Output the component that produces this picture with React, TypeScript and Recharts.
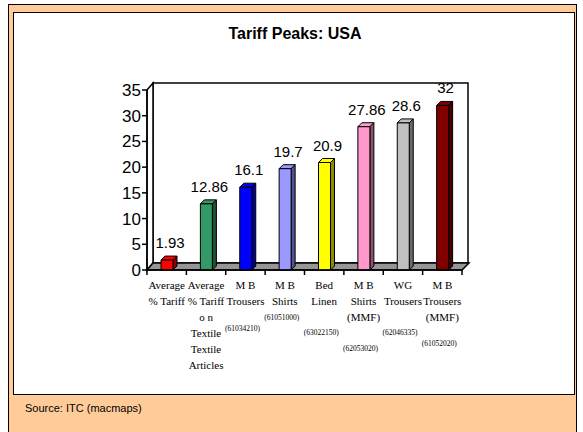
import { BarChart, Bar, XAxis, YAxis, Cell, LabelList } from 'recharts';

const categories = ['avg', 'avgTextile', 'mbTrousers', 'mbShirts', 'bedLinen', 'mbShirtsMMF', 'wgTrousers', 'mbTrousersMMF'];
const tariffs = [1.93, 12.86, 16.1, 19.7, 20.9, 27.86, 28.6, 32];
const labelLines = [
    ['Average', '% Tariff'],
    ['Average', '%  Tariff', 'o n', 'Textile', 'Textile', 'Articles'],
    ['M B', 'Trousers'],
    ['M B', 'Shirts'],
    ['Bed', 'Linen'],
    ['M B', 'Shirts', '(MMF)'],
    ['WG', 'Trousers'],
    ['M B', 'Trousers', '(MMF)'],
];
const codes = ['', '', '(61034210)', '(61051000)', '(63022150)', '(62053020)', '(62046335)', '(61052020)'];
const yTicks = [0, 5, 10, 15, 20, 25, 30, 35];

const COLORS = ['#FF0000', '#339966', '#0000FF', '#9999FF', '#FFFF00', '#FF99CC', '#C0C0C0', '#800000'];

const data = categories.map((c, i) => ({ name: c, value: tariffs[i] }));

// layout
const W = 583;
const H = 432;
const LEFT = 147;
const RIGHT = 462;
const TOP = 90;
const BOTTOM = 270;
const DEPTH = 6;
const BAND = (RIGHT - LEFT) / categories.length;
// row (in lines) where the small code label sits under each category
const CODE_ROW = [0, 0, 2.7, 2.05, 2.95, 3.95, 2.95, 3.65];

const darken = (hex: string, k: number) => {
    const n = parseInt(hex.slice(1), 16);
    const r = Math.round(((n >> 16) & 255) * k);
    const g = Math.round(((n >> 8) & 255) * k);
    const b = Math.round((n & 255) * k);
    return `rgb(${r},${g},${b})`;
};

const Bar3D = (props: any) => {
    const { x, y, width, height, fill } = props;
    const d = 4;
    return (
        <g stroke="#000" strokeWidth={1} strokeLinejoin="round">
            <polygon
                points={`${x},${y} ${x + d},${y - d} ${x + width + d},${y - d} ${x + width},${y}`}
                fill={fill}
            />
            <polygon
                points={`${x + width},${y} ${x + width + d},${y - d} ${x + width + d},${y + height - d} ${x + width},${y + height}`}
                fill={darken(fill, 0.55)}
            />
            <rect x={x} y={y} width={width} height={height} fill={fill} />
        </g>
    );
};

const CategoryTick = (props: any) => {
    const { x, index } = props;
    const lines = labelLines[index];
    const bx = x - BAND / 2;
    return (
        <g>
            <line x1={bx} y1={BOTTOM} x2={bx} y2={BOTTOM + 5} stroke="#000" strokeWidth={1.5} />
            {index === categories.length - 1 && (
                <line x1={bx + BAND} y1={BOTTOM} x2={bx + BAND} y2={BOTTOM + 5} stroke="#000" strokeWidth={1.5} />
            )}
            {lines.map((t, i) => (
                <text
                    key={i}
                    x={x}
                    y={289 + i * 16}
                    textAnchor="middle"
                    fontFamily="Liberation Serif"
                    fontSize={11}
                    fill="#000"
                >
                    {t}
                </text>
            ))}
            {codes[index] && (
                <text
                    x={x - 3}
                    y={287.5 + CODE_ROW[index] * 16}
                    textAnchor="middle"
                    fontFamily="Liberation Serif"
                    fontSize={7.5}
                    fill="#000"
                >
                    {codes[index]}
                </text>
            )}
        </g>
    );
};

const ValueLabel = (props: any) => {
    const { x, y, width, value } = props;
    return (
        <text
            x={x + width / 2 + 3}
            y={y - 12}
            textAnchor="middle"
            fontFamily="Liberation Sans"
            fontSize={15}
            fill="#000"
        >
            {value}
        </text>
    );
};

const App = () => {
    return (
        <div style={{ position: 'absolute', left: 0, top: 0, width: W, height: H, overflow: 'hidden' }}>
            {/* orange frame */}
            <div
                style={{
                    position: 'absolute',
                    left: 8,
                    top: 4,
                    width: 567,
                    height: 440,
                    background: '#FFCC99',
                    border: '1.5px solid #000',
                }}
            />
            <div
                style={{
                    position: 'absolute',
                    left: 13,
                    top: 12,
                    width: 560,
                    height: 381,
                    background: '#fff',
                    border: '1.5px solid #000',
                }}
            />
            <div
                style={{
                    position: 'absolute',
                    left: 0,
                    width: 590,
                    top: 25,
                    textAlign: 'center',
                    fontFamily: 'Liberation Sans',
                    fontWeight: 'bold',
                    fontSize: 16,
                }}
            >
                Tariff Peaks: USA
            </div>
            <div
                style={{
                    position: 'absolute',
                    left: 25,
                    top: 402,
                    fontFamily: 'Liberation Sans',
                    fontSize: 11,
                }}
            >
                Source: ITC (macmaps)
            </div>
            {/* back wall and floor */}
            <svg width={W} height={H} style={{ position: 'absolute', left: 0, top: 0 }}>
                <rect
                    x={LEFT + DEPTH}
                    y={TOP - 7}
                    width={RIGHT - LEFT}
                    height={BOTTOM - TOP}
                    fill="#fff"
                    stroke="#000"
                    strokeWidth={1.5}
                />
                <polygon
                    points={`${LEFT},${TOP} ${LEFT + DEPTH},${TOP - 7} ${LEFT + DEPTH},${BOTTOM - 7} ${LEFT},${BOTTOM}`}
                    fill="#fff"
                    stroke="#000"
                    strokeWidth={1.5}
                />
                <polygon
                    points={`${LEFT},${BOTTOM} ${RIGHT},${BOTTOM} ${RIGHT + 7},${BOTTOM - 7} ${LEFT + DEPTH},${BOTTOM - 7}`}
                    fill="#969696"
                    stroke="#000"
                    strokeWidth={1.5}
                />
            </svg>
            <div style={{ position: 'absolute', left: 0, top: 0 }}>
                <BarChart
                    width={W}
                    height={H}
                    data={data}
                    margin={{ top: TOP, right: W - RIGHT, left: LEFT - 40, bottom: H - BOTTOM - 110 }}
                >
                    <XAxis
                        dataKey="name"
                        height={110}
                        interval={0}
                        tickLine={false}
                        tickSize={0}
                        tickMargin={0}
                        axisLine={{ stroke: '#000', strokeWidth: 1.5 }}
                        tick={<CategoryTick />}
                    />
                    <YAxis
                        width={40}
                        domain={[0, 35]}
                        ticks={yTicks}
                        interval={0}
                        tickSize={5}
                        tickMargin={1}
                        axisLine={{ stroke: '#000', strokeWidth: 1.5 }}
                        tickLine={{ stroke: '#000', strokeWidth: 1.5 }}
                        tick={{ fill: '#000', fontSize: 17, fontFamily: 'Liberation Sans' }}
                    />
                    <Bar dataKey="value" barSize={12} shape={<Bar3D />} isAnimationActive={false}>
                        {data.map((_, index) => (
                            <Cell key={`cell-${index}`} fill={COLORS[index % COLORS.length]} />
                        ))}
                        <LabelList dataKey="value" content={<ValueLabel />} />
                    </Bar>
                </BarChart>
            </div>
        </div>
    );
};

export default App;
